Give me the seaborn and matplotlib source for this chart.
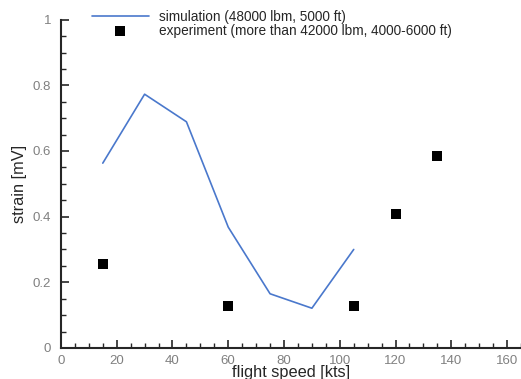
import matplotlib
matplotlib.use("Agg")
import matplotlib.pyplot as plt
from matplotlib.ticker import MultipleLocator
import seaborn as sns
import pandas as pd

sim_speed = [15, 30, 45, 60, 75, 90, 105]
sim_strain = [0.563, 0.773, 0.689, 0.368, 0.165, 0.121, 0.300]
exp_speed = [15, 60, 105, 120, 135]
exp_strain = [0.256, 0.129, 0.128, 0.409, 0.585]
sim_label = "simulation (48000 lbm, 5000 ft)"
exp_label = "experiment (more than 42000 lbm, 4000-6000 ft)"

sns.set_theme(style="ticks")
plt.rcParams["font.family"] = ["Liberation Sans", "DejaVu Sans"]
plt.rcParams["xtick.direction"] = "in"
plt.rcParams["ytick.direction"] = "in"

sim = pd.DataFrame({"speed": sim_speed, "strain": sim_strain})
exp = pd.DataFrame({"speed": exp_speed, "strain": exp_strain})

fig = plt.figure(figsize=(5.21, 3.79), dpi=100)
ax = fig.add_axes([0.117, 0.082, 0.883, 0.866])

sns.lineplot(data=sim, x="speed", y="strain", ax=ax, color="#4a78cc",
             linewidth=1.2, label=sim_label)
sns.scatterplot(data=exp, x="speed", y="strain", ax=ax, color="black",
                marker="s", s=55, edgecolor="black", linewidth=0,
                label=exp_label, zorder=3)

ax.set_xlim(0, 165)
ax.set_ylim(0, 1)
ax.xaxis.set_major_locator(MultipleLocator(20))
ax.xaxis.set_minor_locator(MultipleLocator(5))
ax.yaxis.set_major_locator(MultipleLocator(0.2))
ax.yaxis.set_minor_locator(MultipleLocator(0.05))
ax.set_yticks([0, 0.2, 0.4, 0.6, 0.8, 1.0])
ax.set_yticklabels(["0", "0.2", "0.4", "0.6", "0.8", "1"])
ax.tick_params(which="both", direction="in", left=True, bottom=True)
ax.tick_params(which="major", length=6, width=1.2,
               labelsize=9.5, labelcolor="#808080", pad=7)
ax.tick_params(axis="x", which="major", pad=5)
ax.tick_params(which="minor", length=3.5, width=1)
for side in ("top", "right"):
    ax.spines[side].set_visible(False)
for side in ("left", "bottom"):
    ax.spines[side].set_linewidth(1.5)

ax.set_xlabel("flight speed [kts]", fontsize=11.8, labelpad=-1)
ax.set_ylabel("strain [mV]", fontsize=11.8, labelpad=4)

ax.legend(loc="upper left", bbox_to_anchor=(0.176, 0.974),
          bbox_transform=fig.transFigure, frameon=False,
          fontsize=9.8, handlelength=4.2, handletextpad=0.75,
          borderpad=0, borderaxespad=0, labelspacing=0.0)

fig.savefig("out.png", dpi=100)
